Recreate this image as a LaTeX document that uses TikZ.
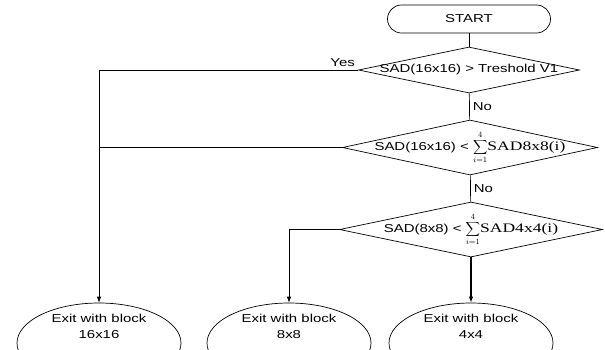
\documentclass[tikz,border=0pt]{standalone}
\usepackage{fontspec}
\setmainfont{Liberation Sans}[FakeStretch=1.3]
\newfontfamily\serfont{Liberation Serif}[FakeStretch=1.35]
\usetikzlibrary{arrows.meta,shapes.geometric}

\newcommand{\sumfour}{$\displaystyle\sum_{i=1}^{4}$}

\begin{document}
\begin{tikzpicture}[x=1pt, y=-1pt, line width=0.7pt,
  term/.style={draw, rounded corners=14pt, minimum width=163pt, minimum height=28pt, inner sep=0pt, font=\fontsize{11.5}{14}\selectfont},
  dec/.style={draw, diamond, inner sep=0pt},
  txt/.style={font=\fontsize{11.5}{16}\selectfont, inner sep=0pt, align=center},
  ex/.style={draw, ellipse, minimum width=164pt, minimum height=80pt, inner sep=0pt},
  lbl/.style={font=\fontsize{11.5}{14}\selectfont, inner sep=3pt},
  ar/.style={-{Latex[length=6pt,width=4.5pt]}}
]
\useasboundingbox (0,0) rectangle (605,349);

\node[term] (start) at (469,19) {START};
\node[dec, minimum width=221pt, minimum height=46pt] (d1) at (469,70) {};
\node[txt] (t1) at (d1) {SAD(16x16) > Treshold V1};
\node[dec, minimum width=255pt, minimum height=55pt] (d2) at (470,147.5) {};
\node[txt] (t2) at (d2) {SAD(16x16) < \sumfour{\serfont\fontsize{13}{15}\selectfont SAD8x8(i)}};
\node[dec, minimum width=263pt, minimum height=55pt] (d3) at (471,229.5) {};
\node[txt] (t3) at (d3) {SAD(8x8) < \sumfour{\serfont\fontsize{13}{15}\selectfont SAD4x4(i)}};

% exits
\node[ex] (e1) at (99,343) {};
\node[txt, yshift=17pt] (x1) at (e1) {Exit with block\\16x16};
\node[ex] (e2) at (289,343) {};
\node[txt, yshift=17pt] (x2) at (e2) {Exit with block\\8x8};
\node[ex] (e3) at (471,343) {};
\node[txt, yshift=17pt] (x3) at (e3) {Exit with block\\4x4};

\draw (start) -- (d1);
\draw (d1) -- node[lbl, right]{No} (d2);
\draw (d2) -- node[lbl, right]{No} (d3);
\draw[ar] (d1.west) -- node[lbl, pos=0, above left]{Yes} (d1.west -| e1.north) -- (e1.north);
\draw (d2.west) -- (d2.west -| e1.north);
\draw[ar] (d3.west) -| (e2.north);
\draw[ar, line width=1.3pt] (d3.south) -- (e3.north);
\end{tikzpicture}
\end{document}
